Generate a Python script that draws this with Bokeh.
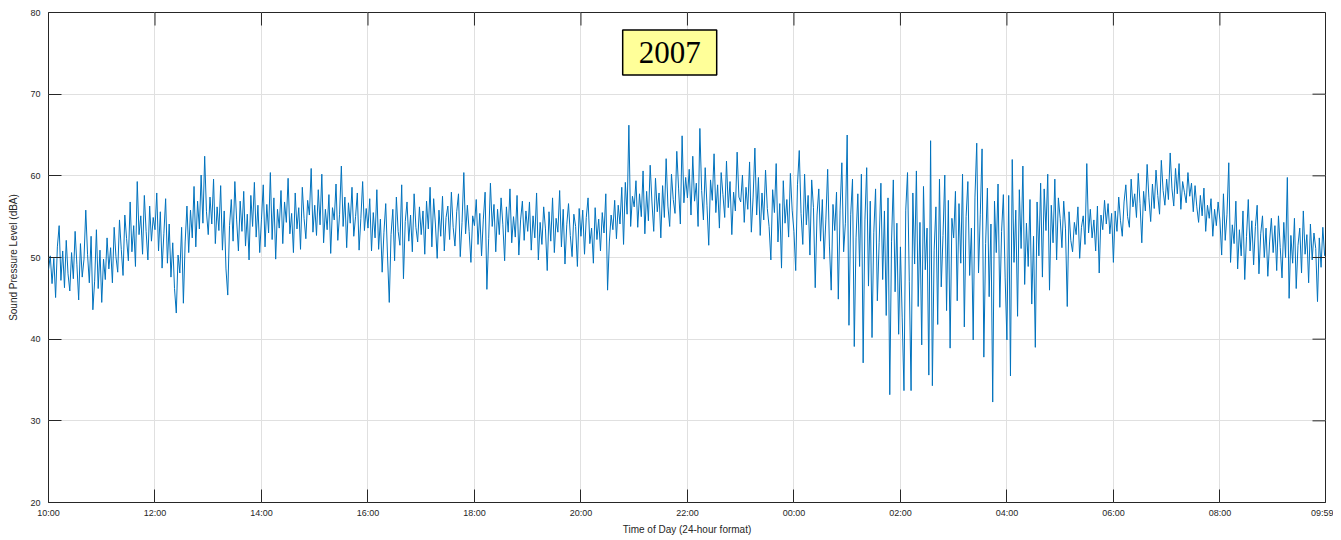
import math
from bokeh.plotting import figure
from bokeh.models import Range1d, FixedTicker, Label
from bokeh.embed import file_html
from bokeh.resources import INLINE

# ---- data (sound pressure level, dBA, one sample every 2 minutes starting 10:00) ----
sample_interval_min = 2
h10 = [48.5, 50.2, 46.8, 49.9, 45.1, 51.3, 53.9, 47.2, 50.8, 46.3, 52.1, 48.0, 45.9, 50.6, 47.4, 53.2, 49.1, 44.8, 51.7, 47.6, 49.8, 55.8, 50.4, 46.9, 52.6, 43.6, 47.1, 53.4, 46.2, 50.9]
h11 = [44.5, 49.8, 47.3, 52.4, 48.6, 51.2, 46.9, 53.7, 50.1, 48.2, 54.6, 51.0, 47.8, 55.2, 52.3, 49.6, 56.8, 50.7, 53.9, 48.9, 59.3, 52.8, 55.1, 50.4, 57.6, 53.2, 49.7, 56.3, 52.0, 54.9]
h12 = [53.4, 57.9, 50.8, 55.6, 48.7, 52.9, 57.2, 49.3, 54.1, 47.6, 51.8, 46.2, 43.2, 50.3, 48.1, 53.7, 44.4, 51.9, 56.3, 50.6, 55.8, 52.4, 58.7, 51.3, 56.9, 53.5, 60.1, 54.2, 62.4, 55.6]
h13 = [52.8, 57.4, 54.1, 59.6, 51.7, 56.2, 53.3, 58.8, 50.9, 55.7, 48.6, 45.4, 53.9, 57.1, 52.0, 59.3, 54.6, 50.8, 56.9, 53.2, 58.1, 51.4, 55.3, 49.7, 57.6, 53.8, 59.2, 52.5, 56.4, 50.6]
h14 = [54.7, 58.9, 51.3, 56.5, 53.0, 60.4, 52.2, 57.3, 49.8, 55.9, 53.6, 58.2, 51.7, 56.8, 54.3, 59.7, 52.9, 55.4, 50.6, 57.9, 53.5, 56.1, 51.0, 58.6, 54.8, 52.3, 57.0, 55.2, 60.9, 53.1]
h15 = [56.4, 52.7, 58.3, 54.0, 60.2, 51.8, 55.9, 53.4, 57.7, 50.5, 56.1, 54.6, 59.0, 52.1, 55.3, 61.2, 53.8, 57.4, 51.2, 56.7, 54.2, 58.6, 52.6, 55.0, 57.9, 50.9, 54.8, 59.3, 53.3, 56.0]
h16 = [53.6, 57.2, 50.8, 55.5, 52.4, 58.3, 51.0, 54.7, 48.2, 53.1, 56.6, 50.3, 44.5, 52.8, 55.9, 49.6, 57.4, 53.2, 51.5, 58.9, 47.4, 54.4, 56.8, 52.0, 55.2, 50.7, 57.8, 53.7, 51.9, 56.2]
h17 = [52.8, 55.7, 50.4, 56.9, 53.5, 58.6, 51.3, 57.2, 54.1, 49.9, 55.8, 52.6, 57.5, 50.8, 54.9, 56.3, 52.2, 58.0, 53.7, 51.4, 55.6, 57.8, 50.1, 54.3, 60.4, 52.9, 56.4, 53.2, 49.4, 55.1]
h18 = [53.9, 57.1, 51.6, 55.4, 50.2, 54.7, 58.0, 46.1, 52.3, 59.1, 53.8, 56.5, 50.7, 55.9, 52.8, 57.3, 54.0, 49.6, 56.2, 53.1, 58.4, 51.8, 55.0, 52.5, 57.6, 50.3, 54.6, 56.9, 52.1, 55.7]
h19 = [53.2, 56.8, 50.9, 55.1, 52.4, 57.9, 49.7, 54.3, 51.6, 56.2, 53.5, 48.4, 55.6, 52.0, 57.3, 50.6, 54.8, 53.1, 58.2, 51.3, 55.9, 49.2, 54.0, 56.6, 52.7, 50.1, 55.3, 53.8, 48.9, 56.0]
h20 = [52.6, 55.8, 50.4, 54.9, 57.3, 51.7, 53.6, 49.3, 56.1, 52.2, 54.7, 50.8, 55.5, 53.0, 57.8, 46.0, 51.9, 55.2, 53.4, 57.0, 52.3, 56.4, 54.1, 58.6, 51.6, 59.2, 55.3, 66.2, 53.8, 57.5]
h21 = [56.2, 59.4, 53.7, 57.8, 55.0, 60.6, 52.9, 58.1, 54.5, 61.3, 56.8, 53.2, 59.7, 55.6, 57.9, 52.4, 58.8, 54.9, 62.1, 56.3, 53.8, 60.2, 57.1, 55.4, 63.0, 58.5, 54.1, 64.9, 56.7, 59.8]
h22 = [57.3, 60.8, 55.2, 62.4, 56.9, 59.1, 53.8, 65.8, 58.2, 54.6, 61.0, 56.4, 51.5, 59.5, 57.0, 62.7, 55.5, 58.9, 53.6, 60.4, 57.7, 54.9, 61.8, 56.1, 59.3, 52.8, 58.0, 55.7, 62.9, 57.4]
h23 = [56.8, 60.1, 54.3, 58.6, 55.9, 61.7, 53.1, 57.4, 63.4, 55.2, 59.8, 52.7, 57.9, 54.6, 60.7, 56.0, 53.8, 49.7, 58.3, 55.5, 61.5, 51.9, 56.6, 48.7, 59.4, 54.2, 57.1, 52.5, 60.3, 55.8]
h00 = [53.2, 48.4, 58.9, 63.1, 55.4, 51.6, 60.2, 54.0, 57.6, 50.3, 59.5, 56.1, 46.3, 55.2, 58.4, 52.0, 57.1, 49.8, 54.7, 60.8, 51.4, 46.0, 56.5, 53.3, 58.0, 44.9, 55.8, 61.6, 50.7, 54.2]
h01 = [65.0, 41.7, 55.3, 59.6, 39.1, 52.4, 57.8, 48.9, 60.2, 37.1, 54.6, 61.0, 46.5, 56.9, 40.2, 53.1, 58.4, 44.7, 51.8, 59.1, 47.3, 55.7, 42.9, 57.3, 33.2, 52.0, 59.5, 45.8, 54.2, 40.6]
h02 = [51.3, 42.6, 33.7, 55.8, 60.4, 47.1, 33.7, 57.9, 49.2, 60.6, 44.0, 54.3, 39.3, 58.7, 48.5, 53.6, 35.6, 64.3, 34.3, 50.9, 56.2, 41.8, 59.6, 46.4, 52.7, 60.1, 43.5, 57.0, 38.9, 54.8]
h03 = [52.4, 58.1, 44.7, 56.6, 49.3, 60.2, 41.5, 55.0, 59.3, 47.8, 53.6, 39.9, 57.4, 64.0, 48.1, 55.3, 63.3, 37.8, 51.7, 58.5, 45.2, 54.1, 32.3, 56.9, 50.6, 59.0, 43.9, 53.2, 57.7, 47.5]
h04 = [39.9, 57.6, 35.5, 62.0, 49.4, 55.8, 42.8, 58.3, 51.1, 61.2, 46.7, 54.2, 48.9, 57.1, 44.3, 52.6, 39.0, 56.8, 50.2, 59.1, 47.6, 58.4, 53.3, 60.2, 46.0, 56.4, 51.8, 59.6, 49.7, 57.3]
h05 = [54.8, 51.2, 56.9, 53.5, 44.0, 55.6, 52.1, 50.7, 54.3, 52.8, 56.2, 49.9, 53.7, 55.1, 51.6, 61.5, 53.0, 55.9, 52.4, 54.6, 50.8, 56.3, 48.1, 55.2, 53.4, 57.0, 54.1, 56.6, 52.9, 55.4]
h06 = [49.4, 55.7, 53.2, 57.4, 54.5, 52.6, 56.8, 58.9, 55.0, 53.7, 59.6, 56.2, 57.8, 54.9, 60.3, 56.6, 51.8, 58.1, 55.7, 61.4, 57.3, 54.4, 59.0, 56.0, 60.7, 57.6, 55.3, 61.9, 58.2, 56.4]
h07 = [59.6, 57.1, 62.8, 58.4, 56.3, 60.9, 57.8, 61.5, 55.9, 59.3, 58.0, 56.7, 60.4, 57.5, 59.1, 55.6, 58.8, 56.2, 54.3, 57.6, 55.1, 58.5, 53.2, 56.4, 54.8, 57.2, 52.6, 55.9, 53.9, 56.8]
h08 = [54.6, 50.3, 57.8, 52.1, 55.3, 61.6, 49.4, 54.0, 51.7, 56.9, 48.6, 53.4, 50.2, 55.7, 47.3, 52.6, 57.1, 50.8, 54.5, 49.1, 53.8, 56.4, 48.0, 52.9, 55.1, 50.0, 53.6, 47.7, 51.9, 54.8]
h09 = [50.6, 53.9, 48.4, 55.1, 51.2, 47.5, 54.3, 50.0, 59.8, 45.0, 52.7, 49.3, 54.8, 46.2, 51.5, 53.6, 48.1, 55.7, 50.4, 52.8, 46.9, 54.1, 49.7, 53.0, 51.1, 44.6, 52.4, 48.8, 53.7, 50.2]

spl = (h10 + h11 + h12 + h13 + h14 + h15 + h16 + h17 + h18 + h19 + h20 + h21 +
       h22 + h23 + h00 + h01 + h02 + h03 + h04 + h05 + h06 + h07 + h08 + h09)
minutes = [i * sample_interval_min for i in range(len(spl))]

x_tick_pos = [0, 120, 240, 360, 480, 600, 720, 840, 960, 1080, 1200, 1320, 1439]
x_tick_labels = ["10:00", "12:00", "14:00", "16:00", "18:00", "20:00", "22:00",
                 "00:00", "02:00", "04:00", "06:00", "08:00", "09:59"]
y_ticks = [20, 30, 40, 50, 60, 70, 80]
title_text = "2007"

X0, X1 = 0, 1439
Y0, Y1 = 20, 80
AX = "#262626"
FONT = "Liberation Sans"

p = figure(frame_width=1277, frame_height=490,
           x_range=Range1d(X0, X1), y_range=Range1d(Y0, Y1),
           output_backend="svg", toolbar_location=None,
           min_border_left=48, min_border_top=12, min_border_right=8, min_border_bottom=33)
p.background_fill_color = "white"
p.border_fill_color = "white"
p.outline_line_color = AX
p.outline_line_width = 1

p.line(minutes, spl, line_color="#0072BD", line_width=1)

xt = FixedTicker(ticks=x_tick_pos)
yt = FixedTicker(ticks=y_ticks)

def style(ax):
    ax.axis_line_color = None
    ax.major_tick_in = 13
    ax.major_tick_out = 0
    ax.major_tick_line_color = AX
    ax.major_tick_line_width = 1
    ax.minor_tick_line_color = None
    ax.major_label_text_font = FONT
    ax.major_label_text_color = AX
    ax.major_label_text_font_size = "9px"
    ax.axis_label_text_font = FONT
    ax.axis_label_text_font_style = "normal"
    ax.axis_label_text_font_size = "10px"
    ax.axis_label_text_color = AX

xa = p.xaxis[0]
xa.ticker = xt
xa.major_label_overrides = {k: v for k, v in zip(x_tick_pos, x_tick_labels)}
xa.axis_label = "Time of Day (24-hour format)"
style(xa)
xa.major_label_standoff = 5
xa.axis_label_standoff = 3

ya = p.yaxis[0]
ya.ticker = yt
ya.axis_label = "Sound Pressure Level (dBA)"
style(ya)
ya.major_label_standoff = 8
ya.axis_label_standoff = 8

# mirrored ticks on top and right edges (box on)
p.ray(x=x_tick_pos, y=[Y1] * len(x_tick_pos), length=13, length_units="screen",
      angle=-math.pi / 2, line_color=AX, line_width=1)
p.ray(x=[X1] * len(y_ticks), y=y_ticks, length=13, length_units="screen",
      angle=math.pi, line_color=AX, line_width=1)

p.xgrid.ticker = xt
p.ygrid.ticker = yt
p.xgrid.grid_line_color = "#e0e0e0"
p.ygrid.grid_line_color = "#e0e0e0"

lab = Label(x=700, y=75.1, text=title_text, text_align="center", text_baseline="middle",
            text_font="Liberation Serif", text_font_size="31px", text_color="black",
            background_fill_color="#ffff99", border_line_color="black", border_line_width=1.5,
            padding=(16, 12))
p.add_layout(lab)

open("out.html", "w").write(file_html(p, INLINE))
